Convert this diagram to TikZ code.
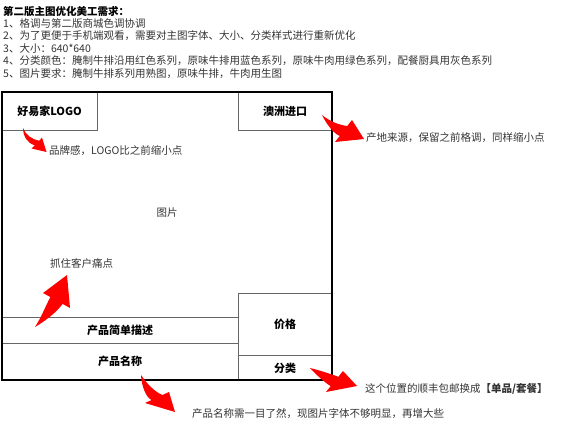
\documentclass[tikz,border=0pt]{standalone}
\usepackage{fontspec}
\setmainfont{Noto Sans CJK SC}
\begin{document}
\begin{tikzpicture}[x=1pt,y=-1pt,
  txt/.style={inner sep=0pt, font=\fontsize{10.5}{12}\selectfont, anchor=west, text=black!80},
  head/.style={inner sep=0pt, font=\fontsize{10.5}{12}\selectfont\bfseries, anchor=west},
  lbl/.style={inner sep=0pt, font=\fontsize{11}{13}\selectfont\bfseries},
  frame/.style={draw=black, line width=1.3pt},
  cell/.style={draw=black!60, line width=0.8pt},
  callout/.style={fill=red, draw=none}]
\useasboundingbox (0,0) rectangle (565,436);

% header text
\node[head] (t0) at (3,11.5) {第二版主图优化美工需求：};
\node[txt] (t1) at (3,23.5) {1、格调与第二版商城色调协调};
\node[txt] (t2) at (3,36) {2、为了更便于手机端观看，需要对主图字体、大小、分类样式进行重新优化};
\node[txt] (t3) at (3,48.5) {3、大小：640*640};
\node[txt] (t4) at (3,61) {4、分类颜色：腌制牛排沿用红色系列，原味牛排用蓝色系列，原味牛肉用绿色系列，配餐厨具用灰色系列};
\node[txt] (t5) at (3,73.5) {5、图片要求：腌制牛排系列用熟图，原味牛排，牛肉用生图};

% cells
\draw[cell] (2,130) -- (97,130) -- (97,92);
\draw[cell] (238,92) -- (238,130) -- (332,130);
\draw[cell] (332,293) -- (238,293) -- (238,380);
\draw[cell] (238,355) -- (332,355);
\draw[cell] (2,317) -- (238,317);
\draw[cell] (2,343) -- (238,343);
\draw[frame] (2,92) rectangle (332,380);

% cell labels
\node[lbl] (logo) at (49.5,111.5) {好易家LOGO};
\node[lbl] (origin) at (285,111.5) {澳洲进口};
\node[txt, anchor=center] (pic) at (167,212.5) {图片};
\node[lbl] (desc) at (120,330.5) {产品简单描述};
\node[lbl] (name) at (120,361.5) {产品名称};
\node[lbl] (price) at (285,324.5) {价格};
\node[lbl] (cat) at (285,368) {分类};

% annotations
\node[txt] (n1) at (49,150.5) {品牌感，LOGO比之前缩小点};
\node[txt] (n2) at (366,138) {产地来源，保留之前格调，同样缩小点};
\node[txt] (n3) at (50,263) {抓住客户痛点};
\node[txt] (n4) at (365,388.5) {这个位置的顺丰包邮换成\textbf{【单品/套餐】}};
\node[txt] (n5) at (192,413.5) {产品名称需一目了然，现图片字体不够明显，再增大些};

% red callout arrows
\fill[callout] (23,128) .. controls (25.5,135) and (32,139.5) .. (39.25,140.75)
  -- (42,137.5) -- (46.5,152) -- (31.5,148.5) -- (34.75,145.25)
  .. controls (27.5,143.5) and (23,136) .. cycle;
\fill[callout] (322,115) .. controls (330,121.5) and (339,125) .. (347.3,126)
  -- (352,120) -- (364,139) -- (335,142) -- (339.7,136)
  .. controls (333,133) and (326.5,124) .. cycle;
\fill[callout] (35,327) .. controls (41,318) and (46,305) .. (50.4,297.1)
  -- (43,293) -- (67,275) -- (70,308) -- (62.6,303.9)
  .. controls (56,313) and (45,321) .. cycle;
\fill[callout] (310,368) .. controls (320,370.5) and (331,374) .. (338.3,376.8)
  -- (343,371) -- (357,386) -- (326,392) -- (330.7,386.2)
  .. controls (324,382) and (315.5,374) .. cycle;
\fill[callout] (141,375) .. controls (147.5,384.5) and (155,392) .. (162.4,395)
  -- (169,392) -- (175,412) -- (145,403) -- (151.6,400)
  .. controls (146,397.5) and (141.5,386) .. cycle;
\end{tikzpicture}
\end{document}
